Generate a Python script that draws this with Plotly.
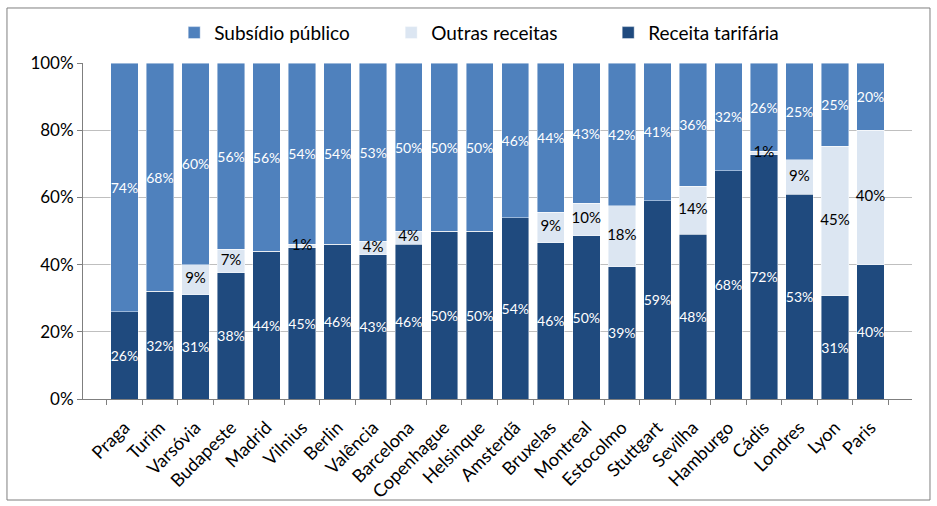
import plotly.graph_objects as go

cities = ["Praga", "Turim", "Varsóvia", "Budapeste", "Madrid", "Vilnius", "Berlin", "Valência",
          "Barcelona", "Copenhague", "Helsinque", "Amsterdã", "Bruxelas", "Montreal", "Estocolmo",
          "Stuttgart", "Sevilha", "Hamburgo", "Cádis", "Londres", "Lyon", "Paris"]
receita_tarifaria = [26, 32, 31, 38, 44, 45, 46, 43, 46, 50, 50, 54, 46, 50, 39, 59, 48, 68, 72, 53, 31, 40]
outras_receitas = [0, 0, 9, 7, 0, 1, 0, 4, 4, 0, 0, 0, 9, 10, 18, 0, 14, 0, 1, 9, 45, 40]
subsidio_publico = [74, 68, 60, 56, 56, 54, 54, 53, 50, 50, 50, 46, 44, 43, 42, 41, 36, 32, 26, 25, 25, 20]

FONT = "Lato"

def labels(vals):
    return [f"{v}%" if v > 0 else "" for v in vals]

fig = go.Figure()
series = [
    ("Receita tarifária", receita_tarifaria, "#1f4a7e", "white", True),
    ("Outras receitas", outras_receitas, "#dce6f2", "black", False),
    ("Subsídio público", subsidio_publico, "#4f81bd", "white", True),
]
for name, vals, color, tcolor, show_text in series:
    fig.add_trace(go.Bar(
        name=name, x=cities, y=vals,
        marker=dict(color=color, line=dict(color="rgba(255,255,255,0.55)", width=0.8)),
        text=labels(vals) if show_text else None, textposition="inside", textangle=0,
        insidetextanchor="middle", constraintext="none",
        textfont=dict(family=FONT, size=14, color=tcolor),
        hoverinfo="skip",
    ))

# labels for the middle series, placed at the centre of its normalised segment (drawn on top)
totals = [r + o + s for r, o, s in zip(receita_tarifaria, outras_receitas, subsidio_publico)]
mid_y = [(r + o / 2) / t * 100 for r, o, t in zip(receita_tarifaria, outras_receitas, totals)]
fig.add_trace(go.Scatter(
    x=cities, y=mid_y, mode="text", text=labels(outras_receitas),
    textfont=dict(family=FONT, size=15, color="black"),
    showlegend=False, hoverinfo="skip",
))

fig.update_layout(
    barmode="stack", barnorm="percent", bargap=0.23,
    width=937, height=506,
    margin=dict(l=83, r=25, t=63, b=107, autoexpand=False),
    paper_bgcolor="white", plot_bgcolor="white",
    font=dict(family=FONT, size=16, color="black"),
    legend=dict(orientation="h", traceorder="reversed", x=0.11, y=1.09,
                xanchor="left", yanchor="middle", entrywidth=172,
                bgcolor="rgba(0,0,0,0)",
                font=dict(family=FONT, size=19), itemclick=False),
    showlegend=True,
    shapes=[dict(type="rect", xref="paper", yref="paper",
                 x0=-0.0917, x1=1.0217, y0=-0.3006, y1=1.1637,
                 line=dict(color="#7f7f7f", width=1), fillcolor="rgba(0,0,0,0)", layer="below")],
)
fig.update_yaxes(range=[0, 100], dtick=20, ticksuffix="%", showgrid=True, gridcolor="#bfbfbf",
                 gridwidth=1, showline=True, linecolor="#7f7f7f", ticks="outside", ticklen=5,
                 tickcolor="#7f7f7f", tickfont=dict(family=FONT, size=17), zeroline=False)
fig.update_xaxes(tickangle=-45, showline=True, linecolor="#7f7f7f", ticks="outside", ticklen=5,
                 tickcolor="#7f7f7f", tickson="boundaries", ticklabelstandoff=10,
                 tickfont=dict(family=FONT, size=18))

fig.write_html("out.html", config={"displayModeBar": False},
               post_script="document.body.style.margin='0px';")
